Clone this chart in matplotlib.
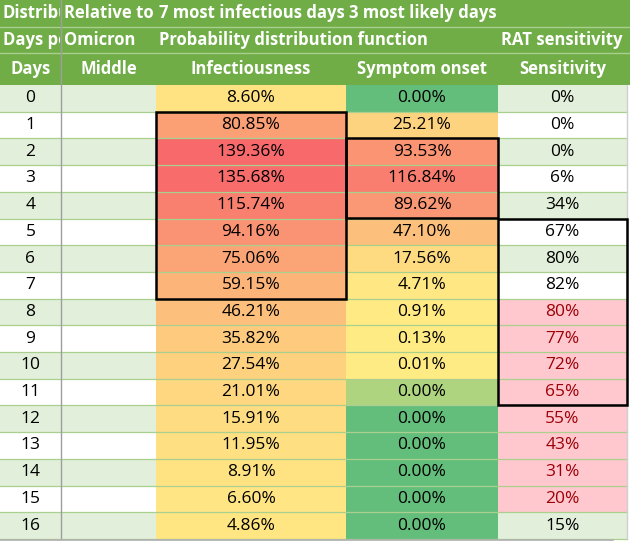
import matplotlib
matplotlib.use("Agg")
import matplotlib.pyplot as plt
from matplotlib.patches import Rectangle

# data
days = list(range(17))
infectiousness = [8.60, 80.85, 139.36, 135.68, 115.74, 94.16, 75.06, 59.15, 46.21,
                  35.82, 27.54, 21.01, 15.91, 11.95, 8.91, 6.60, 4.86]
symptom_onset = [0.00, 25.21, 93.53, 116.84, 89.62, 47.10, 17.56, 4.71, 0.91,
                 0.13, 0.01, 0.0049, 0.00, 0.00, 0.00, 0.00, 0.00]
sensitivity = [0, 0, 0, 6, 34, 67, 80, 82, 80, 77, 72, 65, 55, 43, 31, 20, 15]
sens_flagged = [8, 9, 10, 11, 12, 13, 14, 15]
infect_box = (1, 7)
onset_box = (2, 4)
sens_box = (5, 11)

header_top = ["Distribution", "Relative to", "7 most infectious days", "3 most likely days", ""]
header_mid = ["Days post", "Omicron", "Probability distribution function", "", "RAT sensitivity"]
header_cols = ["Days", "Middle", "Infectiousness", "Symptom onset", "Sensitivity"]

# layout (pixels)
W, H = 630, 542
col_x = [0, 61, 156, 346, 498, 627]
head_y = [0, 27, 53, 85]
row_h = 26.7
y0 = 85

GREEN_HEAD = "#70AD47"
STRIPE = "#E2EFDA"
LINE = "#A9D08E"
font = "Open Sans"


def heat(v):
    # excel style 3 colour scale: green -> yellow -> red
    lo, mid, hi = 0.0, 0.01, max(max(infectiousness), max(symptom_onset))
    g, y, r = (99, 190, 123), (255, 235, 132), (248, 105, 107)
    if v <= mid:
        t = (v - lo) / (mid - lo)
        a, b = g, y
    else:
        t = (v - mid) / (hi - mid)
        a, b = y, r
    return tuple((a[k] + (b[k] - a[k]) * t) / 255 for k in range(3))


fig = plt.figure(figsize=(W / 100, H / 100), dpi=100)
ax = fig.add_axes([0, 0, 1, 1])
ax.set_xlim(0, W)
ax.set_ylim(H, 0)
ax.axis("off")

# header block
ax.add_patch(Rectangle((0, 0), W, head_y[-1], color=GREEN_HEAD, lw=0))
for hy in head_y[1:3]:
    ax.plot([0, W], [hy, hy], color=LINE, lw=1)

clip0 = Rectangle((0, 0), col_x[1] - 1, head_y[2], fill=False, lw=0)
ax.add_patch(clip0)
txt_kw = dict(color="white", fontsize=12, fontweight="bold", family=font, va="center")
for c, (top, mid) in enumerate(zip(header_top, header_mid)):
    x = col_x[c] + 3
    for label, yy in [(top, (head_y[0] + head_y[1]) / 2), (mid, (head_y[1] + head_y[2]) / 2)]:
        if not label:
            continue
        t = ax.text(x, yy, label, ha="left", **txt_kw)
        if c == 0:
            t.set_clip_on(True)
            t.set_clip_path(clip0)
for c, name in enumerate(header_cols):
    ax.text((col_x[c] + col_x[c + 1]) / 2, (head_y[2] + head_y[3]) / 2, name,
            ha="center", **txt_kw)

# body
body_kw = dict(fontsize=12.5, family=font, va="center", ha="center")
for i, d in enumerate(days):
    top = y0 + i * row_h
    cy = top + row_h / 2
    stripe = STRIPE if i % 2 == 0 else "white"
    ax.add_patch(Rectangle((0, top), col_x[2], row_h, color=stripe, lw=0))
    ax.add_patch(Rectangle((col_x[2], top), col_x[3] - col_x[2], row_h,
                           color=heat(infectiousness[i]), lw=0))
    ax.add_patch(Rectangle((col_x[3], top), col_x[4] - col_x[3], row_h,
                           color=heat(symptom_onset[i]), lw=0))
    flagged = d in sens_flagged
    ax.add_patch(Rectangle((col_x[4], top), col_x[5] - col_x[4], row_h,
                           color="#FFC7CE" if flagged else stripe, lw=0))

    ax.text((col_x[0] + col_x[1]) / 2, cy, str(d), color="black", **body_kw)
    ax.text((col_x[2] + col_x[3]) / 2, cy, f"{infectiousness[i]:.2f}%", color="black", **body_kw)
    ax.text((col_x[3] + col_x[4]) / 2, cy, f"{symptom_onset[i]:.2f}%", color="black", **body_kw)
    ax.text((col_x[4] + col_x[5]) / 2, cy, f"{sensitivity[i]}%",
            color="#9C0006" if flagged else "black", **body_kw)

    ax.plot([0, col_x[5]], [top + row_h, top + row_h], color=LINE, lw=0.9)

body_bottom = y0 + len(days) * row_h
ax.plot([col_x[1], col_x[1]], [0, body_bottom], color="#9E9E9E", lw=1)
ax.plot([col_x[5], col_x[5]], [y0, body_bottom], color="#D0D0D0", lw=1)
ax.plot([0, 613], [body_bottom + 1, body_bottom + 1], color="#B0B0B0", lw=1.2)

# highlight boxes
for c, (a, b) in [(2, infect_box), (3, onset_box), (4, sens_box)]:
    ax.add_patch(Rectangle((col_x[c], y0 + a * row_h), col_x[c + 1] - col_x[c],
                           (b - a + 1) * row_h, fill=False, ec="black", lw=1.8, zorder=5))

fig.savefig("out.png", dpi=100)
